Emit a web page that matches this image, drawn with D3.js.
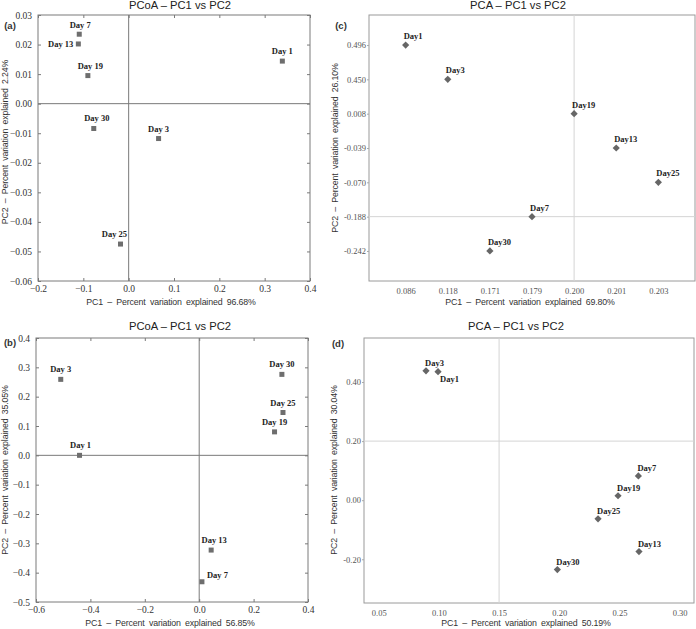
<!DOCTYPE html>
<html>
<head>
<meta charset="utf-8">
<script src="https://cdn.jsdelivr.net/npm/d3@7"></script>
<style>
  html, body { margin: 0; padding: 0; background: #fff; }
  svg { display: block; }
</style>
</head>
<body>
<svg id="chart" width="696" height="629"></svg>
<script>
// ---------- DATA ----------
const aDays = ["Day 1", "Day 3", "Day 7", "Day 13", "Day 19", "Day 25", "Day 30"];
const aPC1 = [0.339, 0.066, -0.109, -0.111, -0.090, -0.018, -0.077];
const aPC2 = [0.0144, -0.0118, 0.0235, 0.0202, 0.0095, -0.0475, -0.0084];
const aXTicks = [-0.2, -0.1, 0.0, 0.1, 0.2, 0.3, 0.4];
const aYTicks = [-0.06, -0.05, -0.04, -0.03, -0.02, -0.01, 0.00, 0.01, 0.02, 0.03];

const bDays = ["Day 1", "Day 3", "Day 7", "Day 13", "Day 19", "Day 25", "Day 30"];
const bPC1 = [-0.440, -0.509, 0.010, 0.044, 0.277, 0.308, 0.304];
const bPC2 = [0.000, 0.259, -0.431, -0.323, 0.080, 0.146, 0.276];
const bXTicks = [-0.6, -0.4, -0.2, 0.0, 0.2, 0.4];
const bYTicks = [-0.5, -0.4, -0.3, -0.2, -0.1, 0.0, 0.1, 0.2, 0.3, 0.4];

const cDays = ["Day1", "Day3", "Day7", "Day13", "Day19", "Day25", "Day30"];
const cPC1 = ["0.086", "0.118", "0.179", "0.201", "0.200", "0.203", "0.171"];
const cPC2 = ["0.496", "0.450", "-0.188", "-0.039", "0.008", "-0.070", "-0.242"];
const cXTicks = ["0.086", "0.118", "0.171", "0.179", "0.200", "0.201", "0.203"];
const cYTicks = ["0.496", "0.450", "0.008", "-0.039", "-0.070", "-0.188", "-0.242"];
const cRefX = "0.200";
const cRefY = "-0.188";

const dDays = ["Day1", "Day3", "Day7", "Day13", "Day19", "Day25", "Day30"];
const dPC1 = [0.0993, 0.0893, 0.2657, 0.2662, 0.2488, 0.2322, 0.1984];
const dPC2 = [0.435, 0.438, 0.082, -0.174, 0.015, -0.063, -0.235];
const dXTicks = [0.05, 0.10, 0.15, 0.20, 0.25, 0.30];
const dYTicks = [-0.20, 0.00, 0.20, 0.40];
const dRefX = 0.15;
const dRefY = 0.20;

// label placement (style): [anchor, dx, dy]
const aLab = {"Day 1":["middle",0,-7],"Day 3":["middle",0,-7],"Day 7":["middle",1,-6],"Day 13":["end",-5,3],
              "Day 19":["middle",2.5,-7],"Day 25":["middle",-6,-7],"Day 30":["middle",3,-7]};
const bLab = {"Day 1":["middle",1,-7],"Day 3":["middle",0,-7],"Day 7":["start",5,-4],"Day 13":["middle",3,-7],
              "Day 19":["middle",0,-7],"Day 25":["middle",0,-7],"Day 30":["middle",0,-7]};
const cLab = {};
cDays.forEach(d => cLab[d] = ["start",-2,-6]);
const dLab = {};
dDays.forEach(d => dLab[d] = ["start",-1,-5]);
dLab["Day1"] = ["start",2,10];

// ---------- DRAW ----------
const svg = d3.select("#chart");
const sans = "'Liberation Sans', Arial, sans-serif";
const serif = "'Liberation Serif', 'Times New Roman', serif";
const hyph = f => v => f(v).replace("\u2212", "-");

function title(x, y, txt) {
  svg.append("text").attr("x", x).attr("y", y).attr("text-anchor", "middle")
    .attr("font-family", sans).attr("font-size", 11.2).attr("fill", "#222").text(txt);
}
function panelTag(x, y, txt) {
  svg.append("text").attr("x", x).attr("y", y).attr("text-anchor", "middle")
    .attr("font-family", sans).attr("font-size", 9.5).attr("font-weight", "bold").attr("fill", "#333").text(txt);
}
function xLabel(x, y, txt) {
  svg.append("text").attr("x", x).attr("y", y).attr("text-anchor", "middle")
    .attr("font-family", sans).attr("font-size", 8.8).attr("word-spacing", 2).attr("letter-spacing", -0.15)
    .attr("fill", "#333").text(txt);
}
function yLabel(x, y, txt) {
  svg.append("text").attr("transform", `translate(${x},${y}) rotate(-90)`).attr("text-anchor", "middle")
    .attr("font-family", sans).attr("font-size", 8.8).attr("word-spacing", 2).attr("letter-spacing", -0.15)
    .attr("fill", "#333").text(txt);
}

// PCoA-style panel
function pcoa(opts) {
  const {L, R, T, B, xd, yd, xt, yt, fx, fy, days, px, py, lab} = opts;
  const x = d3.scaleLinear().domain(xd).range([L, R]);
  const y = d3.scaleLinear().domain(yd).range([B, T]);
  const g = svg.append("g");
  const col = "#7a7a7a";
  g.append("rect").attr("x", L).attr("y", T).attr("width", R - L).attr("height", B - T)
    .attr("fill", "none").attr("stroke", col).attr("stroke-width", 1);
  g.append("line").attr("x1", x(0)).attr("x2", x(0)).attr("y1", T).attr("y2", B).attr("stroke", col);
  g.append("line").attr("x1", L).attr("x2", R).attr("y1", y(0)).attr("y2", y(0)).attr("stroke", col);
  const styleAx = sel => {
    sel.select(".domain").remove();
    sel.selectAll(".tick line").attr("stroke", col);
    sel.selectAll(".tick text").attr("font-family", serif).attr("font-size", 9.5).attr("fill", "#333");
  };
  g.append("g").attr("transform", `translate(${L},0)`)
    .call(d3.axisLeft(y).tickValues(yt).tickFormat(d3.format(fy)).tickSizeInner(-3).tickSizeOuter(0).tickPadding(6))
    .call(styleAx);
  g.append("g").attr("transform", `translate(${R},0)`)
    .call(d3.axisRight(y).tickValues(yt).tickFormat("").tickSizeInner(-3).tickSizeOuter(0))
    .call(styleAx);
  g.append("g").attr("transform", `translate(0,${B})`)
    .call(d3.axisBottom(x).tickValues(xt).tickFormat(d3.format(fx)).tickSizeInner(-3).tickSizeOuter(0).tickPadding(4))
    .call(styleAx);
  g.append("g").attr("transform", `translate(0,${T})`)
    .call(d3.axisTop(x).tickValues(xt).tickFormat("").tickSizeInner(-3).tickSizeOuter(0))
    .call(styleAx);
  days.forEach((d, i) => {
    g.append("rect").attr("x", x(px[i]) - 2.5).attr("y", y(py[i]) - 2.5).attr("width", 5).attr("height", 5)
      .attr("fill", "#6e6e6e");
    const [an, dx, dy] = lab[d];
    g.append("text").attr("x", x(px[i]) + dx).attr("y", y(py[i]) + dy).attr("text-anchor", an)
      .attr("font-family", serif).attr("font-weight", "bold").attr("font-size", 8.5).attr("fill", "#222").text(d);
  });
}

// PCA-style panel
function pca(opts) {
  const {L, R, T, B, x, y, xt, yt, fx, fy, days, px, py, lab, rx, ry} = opts;
  const g = svg.append("g");
  g.append("rect").attr("x", L).attr("y", T).attr("width", R - L).attr("height", B - T)
    .attr("fill", "none").attr("stroke", "#9a9a9a").attr("stroke-width", 1);
  g.append("line").attr("x1", x(rx)).attr("x2", x(rx)).attr("y1", T).attr("y2", B)
    .attr("stroke", "#d4d4d4").attr("stroke-width", 1);
  g.append("line").attr("x1", L).attr("x2", R).attr("y1", y(ry)).attr("y2", y(ry))
    .attr("stroke", "#d4d4d4").attr("stroke-width", 1);
  const styleAx = sel => {
    sel.select(".domain").remove();
    sel.selectAll(".tick line").attr("stroke", "#aaa");
    sel.selectAll(".tick text").attr("font-family", serif).attr("font-size", 8.5).attr("fill", "#555");
  };
  const ax = d3.axisLeft(y).tickValues(yt).tickSizeInner(2).tickSizeOuter(0).tickPadding(1);
  if (fy) ax.tickFormat(fy);
  g.append("g").attr("transform", `translate(${L},0)`).call(ax).call(styleAx);
  const bx = d3.axisBottom(x).tickValues(xt).tickSizeInner(0).tickSizeOuter(0).tickPadding(7);
  if (fx) bx.tickFormat(fx);
  g.append("g").attr("transform", `translate(0,${B})`).call(bx).call(styleAx);
  const sym = d3.symbol().type(d3.symbolSquare).size(26);
  days.forEach((d, i) => {
    const cx = x(px[i]), cy = y(py[i]);
    g.append("path").attr("d", sym()).attr("transform", `translate(${cx},${cy}) rotate(45)`)
      .attr("fill", "#666");
    const [an, dx, dy] = lab[d];
    g.append("text").attr("x", cx + dx).attr("y", cy + dy).attr("text-anchor", an)
      .attr("font-family", serif).attr("font-weight", "bold").attr("font-size", 8.5).attr("fill", "#222").text(d);
  });
}

// (a)
title(180, 9, "PCoA \u2013 PC1 vs PC2");
panelTag(10, 29, "(a)");
pcoa({L: 38, R: 310, T: 15, B: 281, xd: [-0.2, 0.4], yd: [-0.06, 0.03], xt: aXTicks, yt: aYTicks,
      fx: ".1f", fy: ".2f", days: aDays, px: aPC1, py: aPC2, lab: aLab});
xLabel(171, 305, "PC1 \u2013 Percent variation explained 96.68%");
yLabel(8, 142, "PC2 \u2013 Percent variation explained 2.24%");

// (b)
title(180, 330, "PCoA \u2013 PC1 vs PC2");
panelTag(10, 346, "(b)");
pcoa({L: 36, R: 308, T: 338, B: 602, xd: [-0.6, 0.4], yd: [-0.5, 0.4], xt: bXTicks, yt: bYTicks,
      fx: ".1f", fy: ".1f", days: bDays, px: bPC1, py: bPC2, lab: bLab});
xLabel(170, 626, "PC1 \u2013 Percent variation explained 56.85%");
yLabel(8, 470, "PC2 \u2013 Percent variation explained 35.05%");

// (c)
title(518, 9, "PCA \u2013 PC1 vs PC2");
panelTag(341, 29, "(c)");
{
  const L = 369, R = 695, T = 15, B = 281;
  const x = d3.scalePoint().domain(cXTicks).range([L, R]).padding(0.87);
  const y = d3.scalePoint().domain(cYTicks).range([T, B]).padding(0.875);
  pca({L, R, T, B, x, y, xt: cXTicks, yt: cYTicks, days: cDays, px: cPC1, py: cPC2, lab: cLab, rx: cRefX, ry: cRefY});
}
xLabel(530, 305, "PC1 \u2013 Percent variation explained 69.80%");
yLabel(338, 148, "PC2 \u2013 Percent variation explained 26.10%");

// (d)
title(516, 330, "PCA \u2013 PC1 vs PC2");
panelTag(338, 347, "(d)");
{
  const L = 364, R = 694, T = 338, B = 603;
  const x = d3.scaleLinear().domain([0.0378, 0.3119]).range([L, R]);
  const y = d3.scaleLinear().domain([-0.348, 0.549]).range([B, T]);
  pca({L, R, T, B, x, y, xt: dXTicks, yt: dYTicks, fx: hyph(d3.format(".2f")), fy: hyph(d3.format(".2f")),
       days: dDays, px: dPC1, py: dPC2, lab: dLab, rx: dRefX, ry: dRefY});
}
xLabel(526, 626, "PC1 \u2013 Percent variation explained 50.19%");
yLabel(337, 470, "PC2 \u2013 Percent variation explained 30.04%");
</script>
</body>
</html>
